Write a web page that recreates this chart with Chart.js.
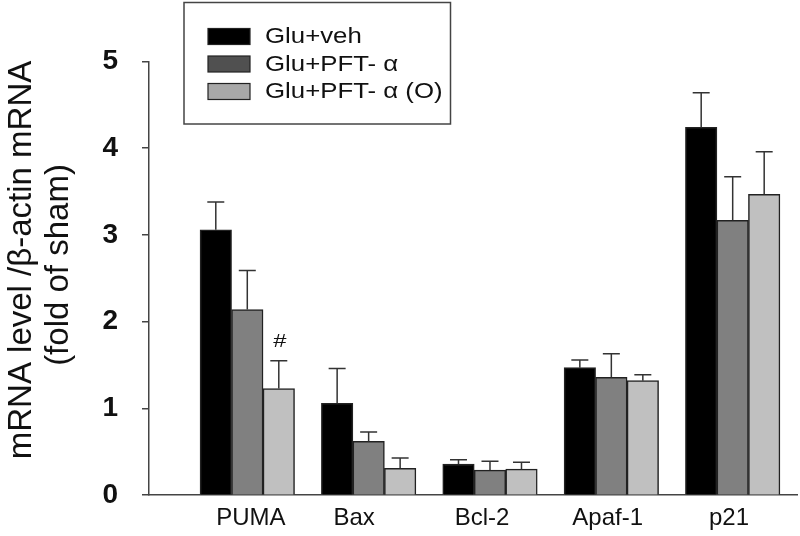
<!DOCTYPE html>
<html>
<head>
<meta charset="utf-8">
<script src="https://cdn.jsdelivr.net/npm/chart.js@4"></script>
<style>
  html, body { margin: 0; padding: 0; background: #ffffff; }
  #wrap { width: 800px; height: 536px; position: relative; }
</style>
</head>
<body>
<div id="wrap"><canvas id="c"></canvas></div>
<script>
// ---- data ----
const categories = ['PUMA', 'Bax', 'Bcl-2', 'Apaf-1', 'p21'];
const seriesNames = ['Glu+veh', 'Glu+PFT- \u03b1', 'Glu+PFT- \u03b1 (O)'];
const gluVeh     = [3.06, 1.06, 0.36, 1.47, 4.24];
const gluVehErr  = [0.32, 0.40, 0.05, 0.09, 0.40];
const gluPft     = [2.14, 0.62, 0.29, 1.36, 3.17];
const gluPftErr  = [0.45, 0.11, 0.10, 0.27, 0.50];
const gluPftO    = [1.23, 0.31, 0.30, 1.32, 3.47];
const gluPftOErr = [0.32, 0.12, 0.08, 0.07, 0.49];
const gluPftOMarks = ['#', '', '', '', ''];
const yTicks = [0, 1, 2, 3, 4, 5];
const yTitleLines = ['mRNA level /\u03b2-actin mRNA', '(fold of sham)'];

// ---- style ----
const barColors = ['#000000', '#808080', '#c0c0c0'];
const legendSwatch = ['#000000', '#505050', '#a8a8a8'];
const labelNudge = [0.03, -0.12, -0.065, -0.03, -0.03]; // label shift in category units
const axisColor = '#444444';
const FONT = '"Liberation Sans", Arial, sans-serif';

function toPoints(vals) { return vals.map((v, i) => ({ x: i + 1, y: v })); }

const datasets = [
  { label: seriesNames[0], data: toPoints(gluVeh), err: gluVehErr, marks: null },
  { label: seriesNames[1], data: toPoints(gluPft), err: gluPftErr, marks: null },
  { label: seriesNames[2], data: toPoints(gluPftO), err: gluPftOErr, marks: gluPftOMarks }
].map((d, i) => Object.assign(d, {
  backgroundColor: barColors[i],
  borderColor: '#222222',
  borderWidth: 1.5,
  barThickness: 31.5
}));

const errorBars = {
  id: 'errorBars',
  afterDatasetsDraw(chart) {
    const ctx = chart.ctx;
    const y = chart.scales.y;
    ctx.save();
    chart.data.datasets.forEach((ds, di) => {
      const meta = chart.getDatasetMeta(di);
      meta.data.forEach((bar, i) => {
        const v = ds.data[i].y;
        const top = y.getPixelForValue(v);
        const capY = y.getPixelForValue(v + ds.err[i]);
        ctx.strokeStyle = '#333333';
        ctx.lineWidth = 1.5;
        ctx.beginPath();
        ctx.moveTo(bar.x, top);
        ctx.lineTo(bar.x, capY);
        ctx.moveTo(bar.x - 8.5, capY);
        ctx.lineTo(bar.x + 8.5, capY);
        ctx.stroke();
        if (ds.marks && ds.marks[i]) {
          ctx.save();
          ctx.translate(bar.x + 1, capY - 19);
          ctx.scale(1.25, 1);
          ctx.fillStyle = '#111111';
          ctx.font = '19px ' + FONT;
          ctx.textAlign = 'center';
          ctx.textBaseline = 'middle';
          ctx.fillText(ds.marks[i], 0, 0);
          ctx.restore();
        }
      });
    });
    ctx.restore();
  }
};

const customLegend = {
  id: 'customLegend',
  afterDraw(chart) {
    const ctx = chart.ctx;
    ctx.save();
    ctx.strokeStyle = '#444444';
    ctx.lineWidth = 1.5;
    ctx.strokeRect(184, 2.5, 266.5, 121.5);
    const rows = [36.5, 64, 91.5];
    chart.data.datasets.forEach((ds, i) => {
      const cy = rows[i];
      ctx.fillStyle = legendSwatch[i];
      ctx.fillRect(208, cy - 8, 42, 16);
      ctx.strokeStyle = '#222222';
      ctx.lineWidth = 1.2;
      ctx.strokeRect(208, cy - 8, 42, 16);
      ctx.save();
      ctx.translate(265, cy + 1);
      ctx.scale(1.2, 1);
      ctx.fillStyle = '#111111';
      ctx.font = '21.5px ' + FONT;
      ctx.textAlign = 'left';
      ctx.textBaseline = 'middle';
      ctx.fillText(ds.label, 0, 0);
      ctx.restore();
    });
    ctx.restore();
  }
};

const yTitle = {
  id: 'yTitle',
  afterDraw(chart) {
    const ctx = chart.ctx;
    ctx.save();
    ctx.fillStyle = '#111111';
    ctx.font = '33px ' + FONT;
    ctx.textAlign = 'center';
    ctx.textBaseline = 'alphabetic';
    const xs = [31, 68];
    const cys = [260, 265];
    yTitleLines.forEach((t, i) => {
      ctx.save();
      ctx.translate(xs[i], cys[i]);
      ctx.rotate(-Math.PI / 2);
      ctx.fillText(t, 0, 0);
      ctx.restore();
    });
    ctx.restore();
  }
};

new Chart(document.getElementById('c'), {
  type: 'bar',
  data: { datasets },
  options: {
    responsive: true,
    maintainAspectRatio: false,
    animation: false,
    devicePixelRatio: 1,
    layout: { padding: { left: 0, top: 61.5, right: 3, bottom: 0 } },
    plugins: { legend: { display: false }, tooltip: { enabled: false } },
    scales: {
      x: {
        type: 'linear',
        offset: false,
        min: 0.19,
        max: 5.53,
        grid: { display: false, drawTicks: false, offset: false },
        border: { display: true, color: axisColor, width: 1.5 },
        afterBuildTicks(scale) {
          scale.ticks = categories.map((c, i) => ({ value: i + 1 + labelNudge[i] }));
        },
        afterFit(scale) { scale.height = 38; },
        ticks: {
          padding: 9,
          color: '#111111',
          font: { family: FONT, size: 24 },
          maxRotation: 0,
          autoSkip: false,
          callback(value) { return categories[Math.round(value) - 1]; }
        }
      },
      y: {
        min: 0,
        max: 5,
        afterBuildTicks(scale) { scale.ticks = yTicks.map(v => ({ value: v })); },
        afterFit(scale) { scale.width = 149; },
        grid: { drawOnChartArea: false, drawTicks: true, tickLength: 7, color: axisColor, lineWidth: 1.5 },
        border: { display: true, color: axisColor, width: 1.5 },
        ticks: {
          padding: 24,
          color: '#111111',
          font: { family: FONT, size: 28, weight: 'bold' }
        }
      }
    }
  },
  plugins: [errorBars, customLegend, yTitle]
});
</script>
</body>
</html>
